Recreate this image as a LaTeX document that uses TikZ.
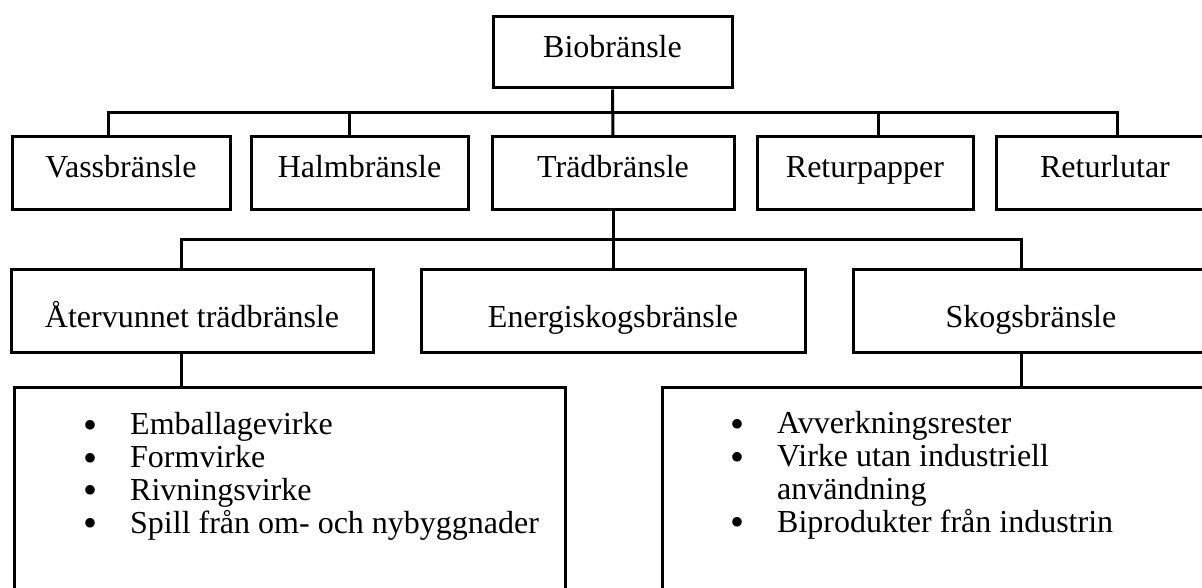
\documentclass[tikz,border=0pt]{standalone}
\usepackage{fontspec}
\setmainfont{Liberation Serif}
\usetikzlibrary{positioning}

\newcommand{\itm}{\makebox[47pt][l]{\raisebox{-3.5pt}{\scalebox{1.25}{\textbullet}}}}

\begin{document}
\begin{tikzpicture}[x=1pt, y=-1pt, font=\fontsize{32}{32.7}\selectfont,
  box/.style={draw, line width=3pt, inner sep=0pt, align=center},
  row0/.style={box, minimum height=71pt, text height=41pt, text depth=30pt},
  row1/.style={box, minimum height=73pt, text height=41pt, text depth=32pt},
  row2/.style={box, minimum height=83pt, text height=58pt, text depth=25pt},
  link/.style={line width=3pt},
  listbox/.style={draw, line width=3pt, anchor=north west, minimum height=260pt},
  items/.style={align=left, inner sep=0pt, anchor=base west}]
  \useasboundingbox (0,0) rectangle (1202,588);
  \clip (0,0) rectangle (1202,588);

  % top level
  \node[row0, minimum width=239pt] (bio) at (612.5,52.5) {Biobränsle};

  % first level
  \node[row1, minimum width=218pt] (vass) at (121,173.5) {Vassbränsle};
  \node[row1, minimum width=217pt] (halm) at (359.5,173.5) {Halmbränsle};
  \node[row1, minimum width=242pt] (trad) at (613,173.5) {Trädbränsle};
  \node[row1, minimum width=216pt] (retp) at (865,173.5) {Returpapper};
  \node[row1, minimum width=218pt] (retl) at (1105,173.5) {Returlutar};

  % second level
  \node[row2, minimum width=362pt] (atv) at (192,310.5) {Återvunnet trädbränsle};
  \node[row2, minimum width=384pt] (ener) at (613,310.5) {Energiskogsbränsle};
  \node[row2, minimum width=356pt] (skog) at (1031,310.5) {Skogsbränsle};

  % lists (anchored on the baseline of the last line)
  \node[listbox, minimum width=551pt] (lbox) at (13,386) {};
  \node[listbox, minimum width=580pt] (rbox) at (661,386) {};
  \node[items] (llist) at (83,533) {\itm Emballagevirke\\ \itm Formvirke\\
    \itm Rivningsvirke\\ \itm Spill från om- och nybyggnader};
  \node[items] (rlist) at (730,532) {\itm Avverkningsrester\\
    \itm Virke utan industriell\\ \hspace*{47pt}användning\\
    \itm Biprodukter från industrin};

  % connectors
  \coordinate (b1) at (108,113);
  \coordinate (b2) at (349,113);
  \coordinate (b4) at (878,113);
  \coordinate (b5) at (1117,113);
  \draw[link] (bio.south) -- (trad.north);
  \draw[link] (vass.north -| b1) -- (b1) -- (b5) -- (retl.north -| b5);
  \draw[link] (b2) -- (halm.north -| b2);
  \draw[link] (b4) -- (retp.north -| b4);

  \coordinate (c1) at (181,240);
  \coordinate (c3) at (1021,240);
  \draw[link] (trad.south) -- (ener.north);
  \draw[link] (atv.north -| c1) -- (c1) -- (c3) -- (skog.north -| c3);
  \draw[link] (atv.south -| c1) -- (lbox.north -| c1);
  \draw[link] (skog.south -| c3) -- (rbox.north -| c3);
\end{tikzpicture}
\end{document}
